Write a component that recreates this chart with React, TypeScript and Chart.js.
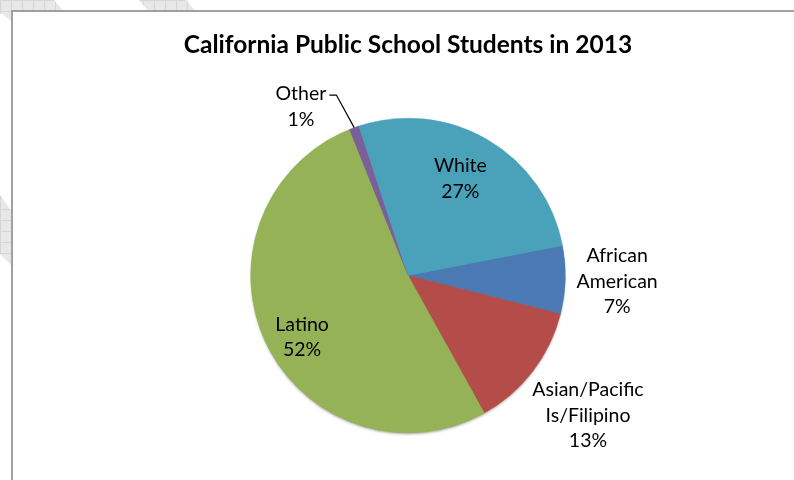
import React, { useEffect, useRef } from "react";
import { Chart, registerables } from "chart.js";

Chart.register(...registerables);

const TITLE = "California Public School Students in 2013";
const categories = ["African American", "Asian/Pacific Is/Filipino", "Latino", "Other", "White"];
const labelLines = [["African", "American"], ["Asian/Pacific", "Is/Filipino"], ["Latino"], ["Other"], ["White"]];
const shares = [7, 13, 52, 1, 27];
const sliceColors = ["#4a79b3", "#b44c49", "#95b257", "#7b5f9c", "#4aa2ba"];
// label placement: radius factor and angle shift in degrees, leader line flag
const labelPlacement = [
  { r: 1.33, shift: 0, leader: false },
  { r: 1.45, shift: 0.3, leader: false },
  { r: 0.78, shift: -4.9, leader: false },
  { r: 1.27, shift: -12.4, leader: true },
  { r: 0.7, shift: -2, leader: false },
];
const FONT = "Lato, 'Open Sans', sans-serif";

function hatch(ctx: CanvasRenderingContext2D, pts: number[][]) {
  ctx.save();
  ctx.beginPath();
  ctx.moveTo(pts[0][0], pts[0][1]);
  for (let i = 1; i < pts.length; i++) ctx.lineTo(pts[i][0], pts[i][1]);
  ctx.closePath();
  ctx.fillStyle = "#e8e8e8";
  ctx.fill();
  ctx.clip();
  ctx.strokeStyle = "#d6d6d6";
  ctx.lineWidth = 1;
  for (let x = 0.5; x < 300; x += 11) {
    ctx.beginPath();
    ctx.moveTo(x, 0);
    ctx.lineTo(x, 480);
    ctx.stroke();
  }
  for (let y = 0.5; y < 480; y += 11) {
    ctx.beginPath();
    ctx.moveTo(0, y);
    ctx.lineTo(300, y);
    ctx.stroke();
  }
  ctx.restore();
}

const backdropPlugin = {
  id: "backdrop",
  beforeDraw(chart: any) {
    const ctx = chart.ctx as CanvasRenderingContext2D;
    const W = chart.width, H = chart.height;
    ctx.save();
    ctx.fillStyle = "#ffffff";
    ctx.fillRect(0, 0, W, H);
    hatch(ctx, [[0, 0], [54, 0], [66, 14], [0, 14]]);
    hatch(ctx, [[0, 0], [12, 0], [12, 22], [0, 12]]);
    hatch(ctx, [[139, 0], [186, 0], [198, 14], [151, 14]]);
    hatch(ctx, [[0, 195], [12, 212], [12, 266], [0, 254]]);
    ctx.fillStyle = "#ffffff";
    ctx.fillRect(12, 11, W, H);
    ctx.fillStyle = "#a0a0a0";
    ctx.fillRect(11, 10, W, 2);
    ctx.fillRect(11, 10, 2, H);
    ctx.restore();
  },
  beforeDatasetsDraw(chart: any) {
    const arc = chart.getDatasetMeta(0).data[0];
    if (!arc) return;
    const ctx = chart.ctx as CanvasRenderingContext2D;
    ctx.save();
    ctx.shadowColor = "rgba(40,50,20,0.55)";
    ctx.shadowBlur = 3;
    ctx.shadowOffsetY = 2;
    ctx.beginPath();
    ctx.arc(arc.x, arc.y, arc.outerRadius - 1, 0, Math.PI * 2);
    ctx.fillStyle = "#8a9a70";
    ctx.fill();
    ctx.restore();
  },
};

const labelPlugin = {
  id: "sliceLabels",
  afterDatasetsDraw(chart: any) {
    const ctx = chart.ctx as CanvasRenderingContext2D;
    const meta = chart.getDatasetMeta(0);
    ctx.save();
    ctx.font = `19.5px ${FONT}`;
    ctx.fillStyle = "#000000";
    ctx.textAlign = "center";
    ctx.textBaseline = "middle";
    const lh = 25.5;
    meta.data.forEach((arc: any, i: number) => {
      const p = labelPlacement[i];
      const mid = (arc.startAngle + arc.endAngle) / 2;
      const a = mid + (p.shift * Math.PI) / 180;
      const cx = arc.x + Math.cos(a) * arc.outerRadius * p.r;
      const cy = arc.y + Math.sin(a) * arc.outerRadius * p.r;
      const lines = [...labelLines[i], `${shares[i]}%`];
      const top = cy - ((lines.length - 1) * lh) / 2;
      lines.forEach((t, k) => ctx.fillText(t, cx, top + k * lh));
      if (p.leader) {
        const w = ctx.measureText(lines[0]).width;
        const sx = cx + w / 2 + 3;
        const sy = top + 1;
        const ex = arc.x + Math.cos(mid) * arc.outerRadius;
        const ey = arc.y + Math.sin(mid) * arc.outerRadius;
        ctx.beginPath();
        ctx.strokeStyle = "#000000";
        ctx.lineWidth = 1.2;
        ctx.moveTo(sx, sy);
        ctx.lineTo(sx + 7, sy);
        ctx.lineTo(ex, ey);
        ctx.stroke();
      }
    });
    ctx.restore();
  },
};

export default function App() {
  const ref = useRef<HTMLCanvasElement | null>(null);
  useEffect(() => {
    if (!ref.current) return;
    const chart = new Chart(ref.current, {
      type: "pie",
      data: {
        labels: categories,
        datasets: [
          {
            data: shares,
            backgroundColor: sliceColors,
            borderColor: sliceColors,
            borderWidth: 0.5,
          },
        ],
      },
      options: {
        responsive: false,
        animation: false,
        rotation: 79,
        layout: { padding: { top: 20, left: 100, right: 78, bottom: 47 } },
        plugins: {
          legend: { display: false },
          tooltip: { enabled: false },
          title: {
            display: true,
            text: TITLE,
            color: "#000000",
            font: { family: FONT, size: 24.5, weight: "bold" },
            padding: { top: 10, bottom: 58.5 },
          },
        },
      },
      plugins: [backdropPlugin, labelPlugin],
    });
    return () => chart.destroy();
  }, []);
  return (
    <div style={{ position: "fixed", left: 0, top: 0, width: 794, height: 480 }}>
      <canvas ref={ref} width={794} height={480} style={{ display: "block" }} />
    </div>
  );
}
